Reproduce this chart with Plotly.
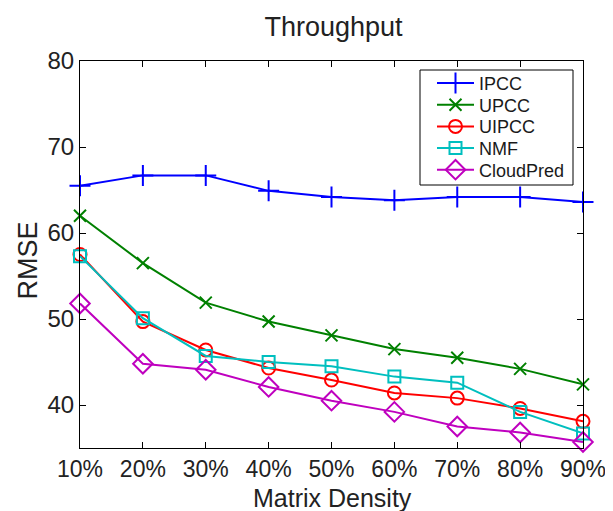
import plotly.graph_objects as go

densities = [10, 20, 30, 40, 50, 60, 70, 80, 90]
tick_labels = ["10%", "20%", "30%", "40%", "50%", "60%", "70%", "80%", "90%"]

ipcc = [65.5, 66.7, 66.7, 64.9, 64.2, 63.8, 64.2, 64.2, 63.6]
upcc = [62.0, 56.5, 51.9, 49.7, 48.1, 46.5, 45.5, 44.2, 42.4]
uipcc = [57.5, 49.7, 46.4, 44.3, 42.9, 41.4, 40.8, 39.6, 38.1]
nmf = [57.3, 50.1, 45.7, 45.0, 44.5, 43.3, 42.6, 39.2, 36.7]
cloudpred = [51.8, 44.8, 44.1, 42.1, 40.5, 39.2, 37.5, 36.8, 35.7]

series = [
    ("IPCC", ipcc, "#0000ff", "cross-thin-open", 15),
    ("UPCC", upcc, "#008000", "x-thin-open", 12),
    ("UIPCC", uipcc, "#ff0000", "circle-open", 13),
    ("NMF", nmf, "#00bfbf", "square-open", 12),
    ("CloudPred", cloudpred, "#bf00bf", "diamond-open", 15),
]

font = "Liberation Sans, Arial, sans-serif"
W, H = 605, 503
L, R, T, B = 72, 30, 53, 63
plot_h = H - T - B
plot_w = W - L - R

def py(y_px):
    return (H - B - y_px) / plot_h

def px(x_px):
    return (x_px - L) / plot_w

legend_rows = [75.3, 97.0, 118.7, 140.3, 162.0]

fig = go.Figure()
layout_legends = {}
for i, (name, vals, color, sym, msize) in enumerate(series):
    key = "legend" if i == 0 else f"legend{i + 1}"
    fig.add_trace(go.Scatter(
        x=densities, y=vals, name=name, mode="lines+markers",
        line=dict(color=color, width=2),
        marker=dict(symbol=sym, size=msize, color=color, line=dict(color=color, width=2)),
        cliponaxis=False, legend=key,
    ))
    layout_legends[key] = dict(
        x=px(424), y=py(legend_rows[i]), xanchor="left", yanchor="middle",
        bgcolor="rgba(0,0,0,0)", borderwidth=0, itemwidth=37,
        font=dict(size=18, family=font, color="#1a1a1a"),
    )

fig.update_layout(
    width=W, height=H,
    margin=dict(l=L, r=R, t=T, b=B, autoexpand=False),
    paper_bgcolor="white", plot_bgcolor="white",
    font=dict(family=font, color="#222222", size=20),
    title=dict(text="Throughput", x=325.5 / W, xref="container", y=1 - 18.7 / H, yref="container",
               xanchor="center", yanchor="middle", font=dict(size=27, family=font),
               automargin=False),
    showlegend=True,
    **layout_legends,
    shapes=[dict(type="rect", xref="paper", yref="paper",
                 x0=px(412), x1=px(565), y0=py(177), y1=py(62),
                 fillcolor="white", line=dict(color="black", width=1), layer="above")],
    annotations=[
        dict(text="Matrix Density", xref="paper", yref="paper", x=px(324), y=py(490),
             xanchor="center", yanchor="middle", showarrow=False,
             font=dict(size=25, family=font, color="#222222")),
        dict(text="RMSE", xref="paper", yref="paper", x=px(19.5), y=py(253),
             xanchor="center", yanchor="middle", showarrow=False, textangle=-90,
             font=dict(size=27, family=font, color="#222222")),
    ],
)
fig.update_xaxes(
    range=[10, 90], tickvals=densities, ticktext=tick_labels,
    ticks="inside", ticklen=6, tickcolor="black", ticklabelstandoff=0,
    showline=True, linecolor="black", linewidth=1, mirror="ticks",
    showgrid=False, zeroline=False, automargin=False,
    tickfont=dict(size=23, family=font),
)
fig.update_yaxes(
    range=[35, 80], tickvals=[40, 50, 60, 70, 80],
    ticks="inside", ticklen=6, tickcolor="black",
    showline=True, linecolor="black", linewidth=1, mirror="ticks",
    showgrid=False, zeroline=False, automargin=False,
    tickfont=dict(size=24, family=font),
)

fig.write_html("out.html")
